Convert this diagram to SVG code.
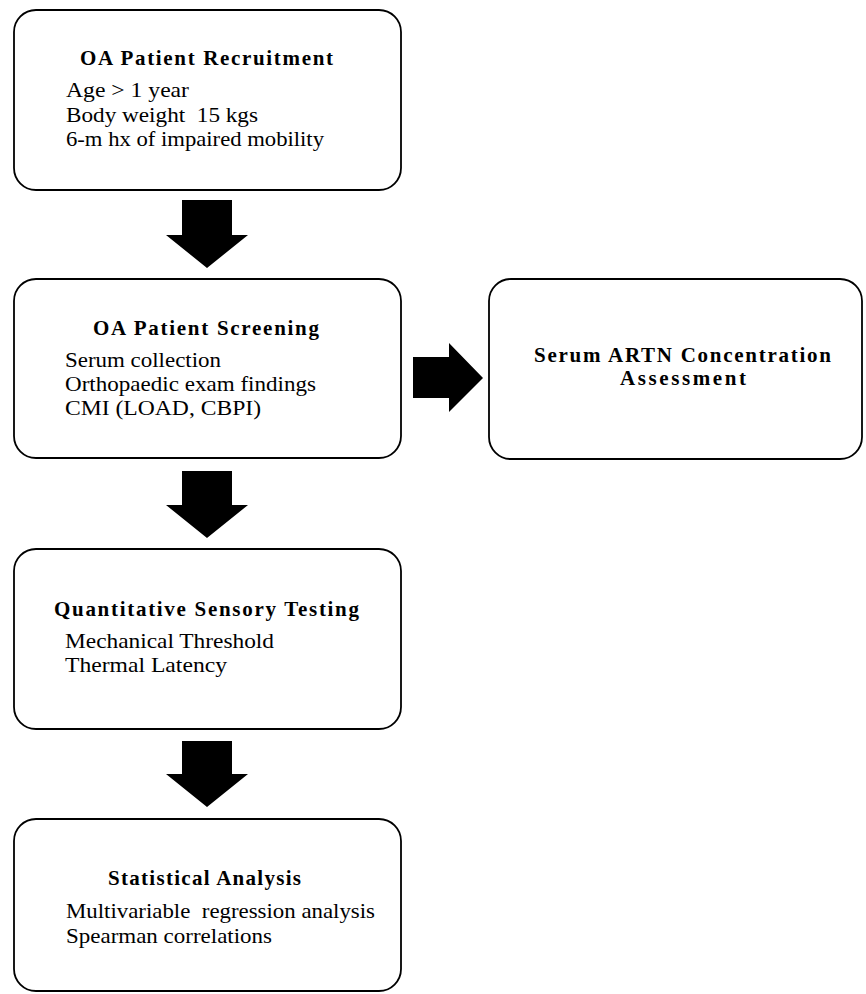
<svg xmlns="http://www.w3.org/2000/svg" width="866" height="994" viewBox="0 0 866 994">
<style>
.box{fill:#fff;stroke:#000;stroke-width:1.8}
.b{font-weight:bold}
.arr{fill:#000}
</style>
<rect width="866" height="994" fill="#fff"/>
<g id="connectors">
<polygon class="arr" points="182,200 232,200 232,235 248,235 207,268 166,235 182,235"/>
<polygon class="arr" points="182,471 232,471 232,505 248,505 207,538 166,505 182,505"/>
<polygon class="arr" points="182,741 232,741 232,774 248,774 207,807 166,774 182,774"/>
<polygon class="arr" points="413,357 449,357 449,343 483,378 449,412 449,398 413,398"/>
</g>
<g font-family="Liberation Serif" font-size="21" fill="#000">
<g id="recruitment">
<rect class="box" x="14" y="10" width="387" height="180" rx="22"/>
<text class="b" x="80" y="65" textLength="253" lengthAdjust="spacing">OA Patient Recruitment</text>
<text x="66" y="97" textLength="123" lengthAdjust="spacingAndGlyphs">Age &gt; 1 year</text>
<text x="66" y="121.5" textLength="192" lengthAdjust="spacingAndGlyphs" xml:space="preserve">Body weight  15 kgs</text>
<text x="66" y="145.5" textLength="258" lengthAdjust="spacingAndGlyphs">6-m hx of impaired mobility</text>
</g>
<g id="screening">
<rect class="box" x="14" y="279" width="387" height="179" rx="22"/>
<text class="b" x="93" y="335" textLength="226" lengthAdjust="spacing">OA Patient Screening</text>
<text x="65" y="366.5" textLength="156" lengthAdjust="spacingAndGlyphs">Serum collection</text>
<text x="65" y="390.5" textLength="251" lengthAdjust="spacingAndGlyphs">Orthopaedic exam findings</text>
<text x="65" y="414.5" textLength="196" lengthAdjust="spacingAndGlyphs">CMI (LOAD, CBPI)</text>
</g>
<g id="artn">
<rect class="box" x="489" y="279" width="373" height="180" rx="22"/>
<text class="b" x="534" y="361.5" textLength="297" lengthAdjust="spacing">Serum ARTN Concentration</text>
<text class="b" x="620" y="385" textLength="126" lengthAdjust="spacing">Assessment</text>
</g>
<g id="qst">
<rect class="box" x="14" y="549" width="387" height="180" rx="22"/>
<text class="b" x="54" y="616" textLength="305" lengthAdjust="spacing">Quantitative Sensory Testing</text>
<text x="65" y="648" textLength="209" lengthAdjust="spacingAndGlyphs">Mechanical Threshold</text>
<text x="65" y="671.5" textLength="162" lengthAdjust="spacingAndGlyphs">Thermal Latency</text>
</g>
<g id="stats">
<rect class="box" x="14" y="819" width="387" height="172" rx="22"/>
<text class="b" x="108" y="885" textLength="193" lengthAdjust="spacing">Statistical Analysis</text>
<text x="66" y="918" textLength="309" lengthAdjust="spacingAndGlyphs" xml:space="preserve">Multivariable  regression analysis</text>
<text x="66" y="942.5" textLength="206" lengthAdjust="spacingAndGlyphs">Spearman correlations</text>
</g>
</g>
</svg>
